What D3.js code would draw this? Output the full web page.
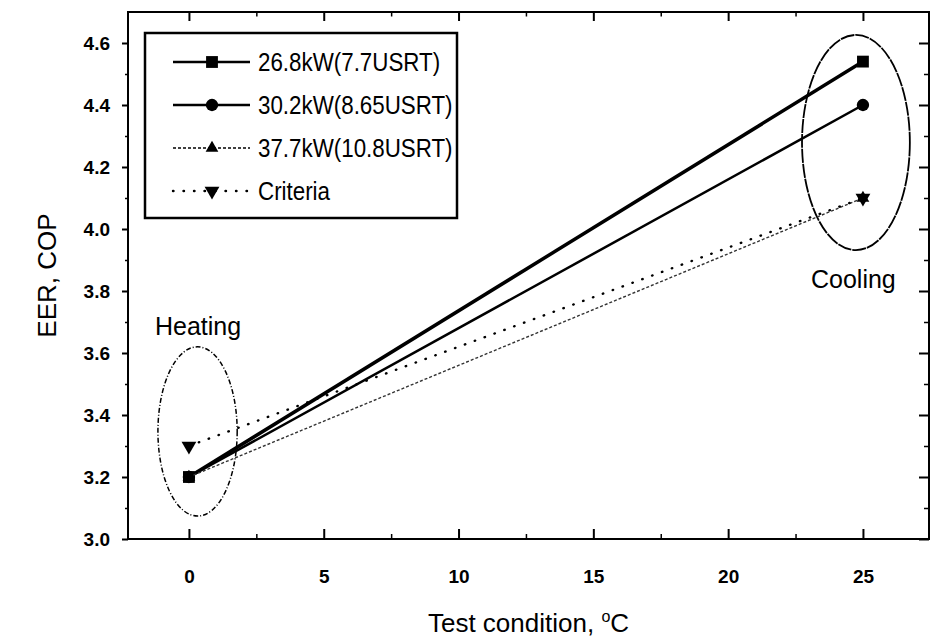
<!DOCTYPE html>
<html>
<head>
<meta charset="utf-8">
<script src="https://cdn.jsdelivr.net/npm/d3@7"></script>
<style>
  body { margin: 0; background: #fff; }
  svg { display: block; font-family: "Liberation Sans", Arial, sans-serif; }
</style>
</head>
<body>
<svg id="chart" width="931" height="644"></svg>
<script>
// values
var conditions = [0, 25];
var eer268 = [3.2, 4.54];
var eer302 = [3.2, 4.40];
var eer377 = [3.2, 4.10];
var criteria = [3.3, 4.10];
var seriesNames = ["26.8kW(7.7USRT)", "30.2kW(8.65USRT)", "37.7kW(10.8USRT)", "Criteria"];
var xTicks = [0, 5, 10, 15, 20, 25];
var yTicks = [3.0, 3.2, 3.4, 3.6, 3.8, 4.0, 4.2, 4.4, 4.6];
// ellipse annotations: [cx, cy, rx, ry] in data units
var heatingEllipse = [0.32, 3.347, 1.47, 0.273];
var coolingEllipse = [24.74, 4.279, 2.0, 0.347];

(function (){
  var svg = d3.select("#chart");
  var pLeft = 128, pRight = 929, pTop = 12, pBottom = 539;

  var x = d3.scaleLinear().domain([-2.26, 27.45]).range([pLeft, pRight]);
  var y = d3.scaleLinear().domain([3.0, 4.7]).range([pBottom, pTop]);

  var styles = [
    {width: 3.5, dash: null, symbol: d3.symbolSquare, size: 140, rot: 0},
    {width: 2.5, dash: null, symbol: d3.symbolCircle, size: 120, rot: 0},
    {width: 1.4, dash: "3,2", symbol: d3.symbolTriangle, size: 70, rot: 0},
    {width: 2.4, dash: "0.5,10", symbol: d3.symbolTriangle, size: 95, rot: 180}
  ];
  var series = [eer268, eer302, eer377, criteria];

  // axes
  var g = svg.append("g");
  var xMinor = [2.5, 7.5, 12.5, 17.5, 22.5];
  var yMinor = [3.1, 3.3, 3.5, 3.7, 3.9, 4.1, 4.3, 4.5];

  var drawAxis = function (axis, pos, major, minor, inner){
    var a = g.append("g").attr("transform", pos);
    a.call(axis.tickValues(major).tickSizeInner(inner).tickSizeOuter(0));
    a.select(".domain").remove();
    a.selectAll("line").attr("stroke", "#000").attr("stroke-width", 2);
    var b = g.append("g").attr("transform", pos);
    b.call(axis.tickValues(minor).tickSizeInner(inner / 2).tickFormat(""));
    b.select(".domain").remove();
    b.selectAll("line").attr("stroke", "#000").attr("stroke-width", 1.5);
    return a;
  };

  var bx = drawAxis(d3.axisBottom(x), "translate(0," + pBottom + ")", xTicks, xMinor, -10);
  bx.selectAll("text").attr("y", 44).attr("dy", 0)
    .style("font-size", "19px").style("font-weight", "bold").attr("fill", "#000");
  drawAxis(d3.axisTop(x), "translate(0," + pTop + ")", xTicks, xMinor, -9).selectAll("text").remove();
  var ly = drawAxis(d3.axisLeft(y).tickFormat(d3.format(".1f")), "translate(" + pLeft + ",0)", yTicks, yMinor, 6);
  ly.selectAll("text").attr("x", -18).attr("dy", "0.36em")
    .style("font-size", "19px").style("font-weight", "bold").attr("fill", "#000");
  drawAxis(d3.axisRight(y), "translate(" + pRight + ",0)", yTicks, yMinor, -10).selectAll("text").remove();

  g.append("rect").attr("x", pLeft).attr("y", pTop)
    .attr("width", pRight - pLeft).attr("height", pBottom - pTop)
    .attr("fill", "none").attr("stroke", "#000").attr("stroke-width", 2);

  // axis titles
  svg.append("text").attr("x", (pLeft + pRight) / 2).attr("y", 632)
    .attr("text-anchor", "middle").style("font-size", "26px")
    .html("Test condition, <tspan dy='-10' font-size='16'>o</tspan><tspan dy='10'>C</tspan>");
  svg.append("text").attr("transform", "translate(56," + y(3.85) + ") rotate(-90)")
    .attr("text-anchor", "middle").style("font-size", "26px").text("EER, COP");

  // ellipses
  var ell = [[heatingEllipse, "5,2,1,2", 1.5], [coolingEllipse, "14,1", 1.8]];
  ell.forEach(function (e){
    var d = e[0];
    svg.append("ellipse")
      .attr("cx", x(d[0])).attr("cy", y(d[1]))
      .attr("rx", x(d[0] + d[2]) - x(d[0])).attr("ry", y(d[1]) - y(d[1] + d[3]))
      .attr("fill", "none").attr("stroke", "#000")
      .attr("stroke-width", e[2]).attr("stroke-dasharray", e[1]);
  });
  svg.append("text").attr("x", 155).attr("y", 335).style("font-size", "25px").text("Heating");
  svg.append("text").attr("x", 811).attr("y", 288).style("font-size", "25px").text("Cooling");

  // lines and markers
  var line = d3.line().x(function (d, i){ return x(conditions[i]); }).y(function (d){ return y(d); });
  series.forEach(function (s, k){
    var st = styles[k];
    svg.append("path").datum(s).attr("d", line)
      .attr("fill", "none").attr("stroke", k === 2 ? "#333" : "#000")
      .attr("stroke-width", st.width).attr("stroke-dasharray", st.dash)
      .attr("stroke-linecap", k === 3 ? "round" : "butt");
    svg.selectAll(".m" + k).data(s).enter().append("path")
      .attr("class", "m" + k)
      .attr("d", d3.symbol().type(st.symbol).size(st.size))
      .attr("transform", function (d, i){
        return "translate(" + x(conditions[i]) + "," + y(d) + ") rotate(" + st.rot + ")";
      })
      .attr("fill", "#000");
  });

  // legend
  var lg = svg.append("g");
  var lgLeft = 145, lgTop = 33, rowH = 43;
  lg.append("rect").attr("x", lgLeft).attr("y", lgTop).attr("width", 312).attr("height", 185)
    .attr("fill", "#fff").attr("stroke", "#000").attr("stroke-width", 2.5);
  seriesNames.forEach(function (name, k){
    var st = styles[k];
    var cy = lgTop + 29 + k * rowH;
    lg.append("line").attr("x1", lgLeft + 28).attr("x2", lgLeft + 105)
      .attr("y1", cy).attr("y2", cy)
      .attr("stroke", "#000").attr("stroke-width", Math.min(st.width, 2.5))
      .attr("stroke-dasharray", st.dash).attr("stroke-linecap", k === 3 ? "round" : "butt");
    lg.append("path").attr("d", d3.symbol().type(st.symbol).size(st.size))
      .attr("transform", "translate(" + (lgLeft + 67) + "," + cy + ") rotate(" + st.rot + ")")
      .attr("fill", "#000");
    lg.append("text").attr("transform", "translate(" + (lgLeft + 113) + "," + cy + ") scale(0.86,1)")
      .attr("dy", "0.36em").style("font-size", "26px").text(name);
  });
})();
</script>
</body>
</html>
